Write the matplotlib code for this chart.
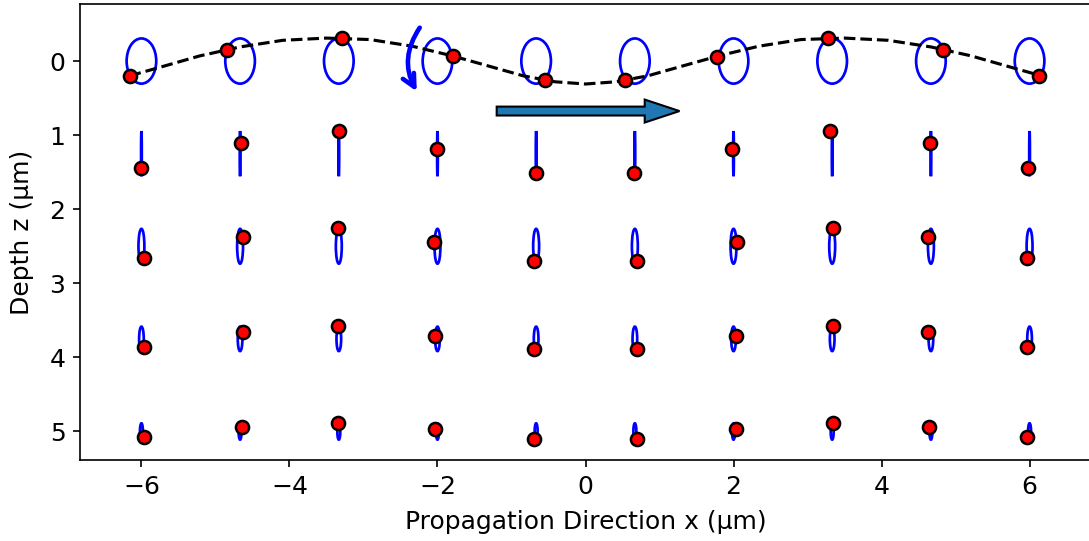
import numpy as np
import matplotlib
matplotlib.use("Agg")
import matplotlib.pyplot as plt
from matplotlib.patches import Ellipse

plt.rcParams["font.size"] = 12

# column positions (x, µm) and depth rows (z, µm)
x_cols = [-6.0, -4.667, -3.333, -2.0, -0.667, 0.667, 2.0, 3.333, 4.667, 6.0]
z_rows = [0.0, 1.25, 2.5, 3.75, 5.0]

# full width / height of the particle orbit at each depth
orbit_w = [0.40, 0.01, 0.08, 0.063, 0.04]
orbit_h = [0.61, 0.61, 0.47, 0.33, 0.22]

# current particle positions, one list per depth row
dot_x = [
    [-6.15, -4.84, -3.29, -1.79, -0.55, 0.54, 1.78, 3.28, 4.83, 6.13],
    [-6.00, -4.66, -3.33, -2.00, -0.67, 0.65, 1.98, 3.31, 4.65, 5.98],
    [-5.96, -4.63, -3.34, -2.05, -0.69, 0.69, 2.05, 3.34, 4.63, 5.96],
    [-5.97, -4.63, -3.34, -2.04, -0.69, 0.69, 2.04, 3.34, 4.63, 5.97],
    [-5.97, -4.64, -3.34, -2.03, -0.69, 0.69, 2.03, 3.34, 4.64, 5.97],
]
dot_z = [
    [0.20, -0.15, -0.31, -0.07, 0.26, 0.26, -0.06, -0.31, -0.15, 0.20],
    [1.45, 1.10, 0.95, 1.19, 1.51, 1.51, 1.19, 0.95, 1.10, 1.45],
    [2.66, 2.38, 2.26, 2.44, 2.70, 2.70, 2.44, 2.26, 2.38, 2.66],
    [3.86, 3.66, 3.58, 3.71, 3.89, 3.89, 3.71, 3.58, 3.66, 3.86],
    [5.08, 4.94, 4.88, 4.97, 5.10, 5.10, 4.97, 4.88, 4.94, 5.08],
]

# deformed surface (dashed line)
surf_x = [-6.16, -5.70, -5.21, -4.67, -4.09, -3.50, -2.91, -2.34, -1.80, -1.30,
          -0.84, -0.41, 0.0, 0.41, 0.84, 1.30, 1.80, 2.34, 2.91, 3.50,
          4.09, 4.67, 5.21, 5.70, 6.16]
surf_z = [0.20, 0.07, -0.07, -0.19, -0.28, -0.31, -0.29, -0.20, -0.07, 0.07,
          0.20, 0.28, 0.31, 0.28, 0.20, 0.07, -0.07, -0.20, -0.29, -0.31,
          -0.28, -0.19, -0.07, 0.07, 0.20]

fig = plt.figure(figsize=(1089 / 150, 541 / 150), dpi=150)
ax = fig.add_axes([80 / 1089, 1 - 460 / 541, 1011 / 1089, 456 / 541])

for i, z0 in enumerate(z_rows):
    for x0 in x_cols:
        ax.add_patch(Ellipse((x0, z0), orbit_w[i], orbit_h[i], fill=False,
                             edgecolor="blue", lw=1.3, zorder=2))

ax.plot(surf_x, surf_z, "k--", lw=1.5, zorder=3)

for i in range(len(z_rows)):
    ax.plot(dot_x[i], dot_z[i], "o", mfc="red", mec="black", ms=6.3, mew=1.2,
            zorder=5)

# rotation sense
ax.annotate("", xy=(-2.28, 0.41), xytext=(-2.24, -0.45),
            arrowprops=dict(arrowstyle="->", color="blue", lw=2.2,
                            mutation_scale=15, shrinkA=0, shrinkB=0,
                            connectionstyle="arc3,rad=0.3"), zorder=4)

# propagation direction
ax.arrow(-1.2, 0.675, 2.47, 0, width=0.12, head_width=0.31, head_length=0.47,
         length_includes_head=True, fc="#1f77b4", ec="black", lw=1, zorder=4)

ax.set_xlim(-6.83, 6.83)
ax.set_ylim(5.385, -0.77)
ax.set_xticks([-6, -4, -2, 0, 2, 4, 6])
ax.set_yticks([0, 1, 2, 3, 4, 5])
ax.set_xlabel("Propagation Direction x (µm)", labelpad=5.5)
ax.set_ylabel("Depth z (µm)", labelpad=7.5)

fig.savefig("out.png", dpi=150)
